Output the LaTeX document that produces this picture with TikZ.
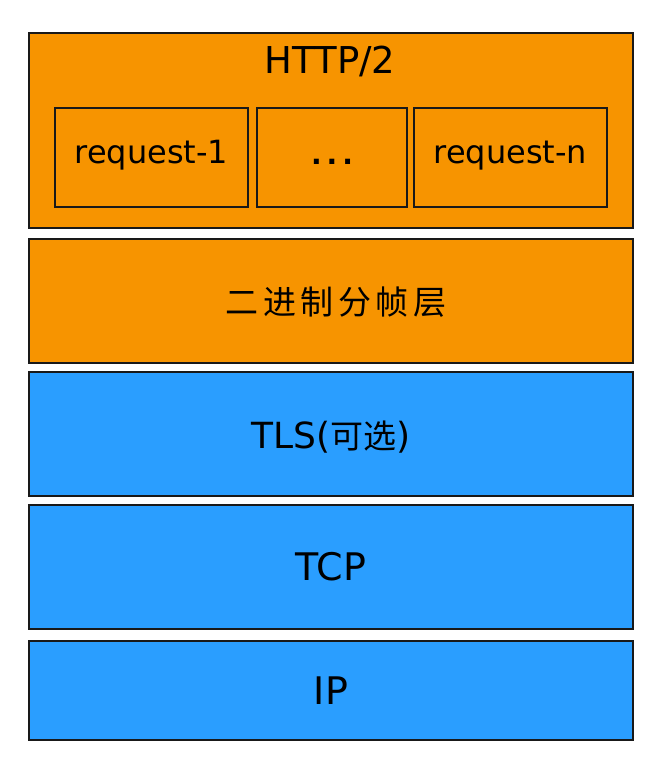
\documentclass[tikz,border=0pt]{standalone}
\usepackage{fontspec}
\setmainfont{DejaVu Sans}
\newfontfamily\cjk[LetterSpace=14]{Noto Sans CJK SC}
\newfontfamily\cjkb{Noto Sans CJK SC}
\definecolor{orangefill}{HTML}{F79400}
\definecolor{bluefill}{HTML}{2A9EFF}
\begin{document}
\begin{tikzpicture}[x=1pt,y=-1pt,
  layer/.style={draw=black!90, line width=1.8pt, inner sep=0pt, outer sep=0pt},
  orange/.style={layer, fill=orangefill},
  blue/.style={layer, fill=bluefill},
  inbox/.style={draw=black!90, line width=1.5pt, inner sep=0pt, fill=orangefill},
  big/.style={font=\fontsize{38}{42}\selectfont, inner sep=0pt},
  req/.style={font=\fontsize{32}{36}\selectfont, inner sep=0pt}]
\useasboundingbox (0,0) rectangle (665,775);
\fill[white] (0,0) rectangle (665,775);
% layers
\node[orange, minimum width=604pt, minimum height=195pt] (http) at (331,130.5) {};
\node[orange, minimum width=604pt, minimum height=124pt] (frame) at (331,301) {};
\node[blue, minimum width=604pt, minimum height=124pt] (tls) at (331,434) {};
\node[blue, minimum width=604pt, minimum height=124pt] (tcp) at (331,567) {};
\node[blue, minimum width=604pt, minimum height=99pt] (ip) at (331,690.5) {};
% inner boxes
\node[inbox, minimum width=193pt, minimum height=99pt] (r1) at (151.5,157.5) {};
\node[inbox, minimum width=150pt, minimum height=99pt] (dots) at (332,157.5) {};
\node[inbox, minimum width=193pt, minimum height=99pt] (rn) at (510.5,157.5) {};
% texts
\node[big, font=\fontsize{37}{42}\selectfont] (thttp) at (330,61) {HTTP/2};
\node[req] (tr1) at ([yshift=2pt]r1.center) {request-1};
\node[font=\fontsize{28}{32}\selectfont\bfseries, inner sep=0pt, anchor=base] (td) at (332,165) {.\hspace{5pt}.\hspace{5pt}.};
\node[req] (trn) at ([yshift=2pt]rn.center) {request-n};
\node[font=\fontsize{33}{36}\selectfont\cjk, inner sep=0pt] (tframe) at (336,302) {二进制分帧层};
\node[font=\fontsize{36}{40}\selectfont, inner sep=0pt] (ttls) at (331,437) {TLS({\cjkb\fontsize{33}{36}\selectfont 可选})};
\node[big] (ttcp) at (331,567) {TCP};
\node[big] (tip) at (331,691) {IP};
\end{tikzpicture}
\end{document}
